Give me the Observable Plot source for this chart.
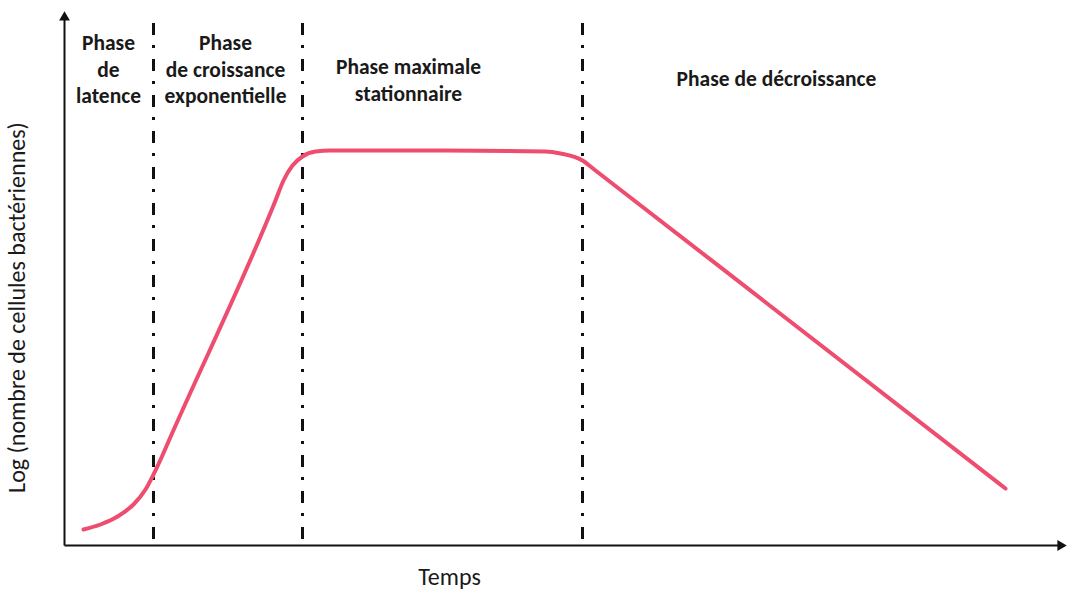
<!DOCTYPE html>
<html>
<head>
<meta charset="utf-8">
<script src="https://cdn.jsdelivr.net/npm/d3@7"></script>
<script src="https://cdn.jsdelivr.net/npm/@observablehq/plot@0.6"></script>
<style>
  html, body { margin: 0; padding: 0; background: #fff; }
  #chart svg { display: block; }
</style>
</head>
<body>
<div id="chart"></div>
<script>
// Time (arbitrary units) and log(cell count) (arbitrary units)
const curveTime = [19, 36, 53, 69, 81, 89, 97, 104, 211, 219, 228, 238, 251, 266, 380, 481, 496, 518, 531, 700, 941];
const curveLog  = [16, 21, 29, 41, 56, 71, 88, 104, 345, 365, 380, 389, 394, 395, 395, 394, 392, 385, 375, 244, 57];

// Phase boundaries (dash-dot lines)
const boundaries = [89, 238, 518];

// Phase labels (lines) and their anchor on the time / log axes
const phaseLines = [
  ["Phase", "de", "latence"],
  ["Phase", "de croissance", "exponentielle"],
  ["Phase maximale", "stationnaire"],
  ["Phase de décroissance"]
];
const phaseLabelTime = [44, 161, 344, 712];
const phaseLabelLog  = [514, 514, 490, 478];

const xLabel = "Temps";
const yLabel = "Log (nombre de cellules bactériennes)";

const curve = curveTime.map((t, i) => ({t, v: curveLog[i]}));
const labels = phaseLines.map((lines, i) => ({text: lines.join("\n"), t: phaseLabelTime[i], v: phaseLabelLog[i]}));

const font = "Carlito, Lato, 'Open Sans', sans-serif";

const chart = Plot.plot({
  width: 1069,
  height: 590,
  marginLeft: 64,
  marginRight: 4,
  marginTop: 10,
  marginBottom: 45,
  x: {domain: [0, 1001], axis: null},
  y: {domain: [0, 535], axis: null},
  style: {fontFamily: font, background: "#fff"},
  marks: [
    // phase boundaries
    Plot.ruleX(boundaries, {x: d => d, y1: 6, y2: 532, stroke: "#111", strokeWidth: 3, strokeDasharray: "12 11 3 10"}),
    // axes
    Plot.link([{x1: 0, y1: 0, x2: 0, y2: 526}], {x1: "x1", y1: "y1", x2: "x2", y2: "y2", stroke: "#111", strokeWidth: 2}),
    Plot.link([{x1: 0, y1: 0, x2: 994, y2: 0}], {x1: "x1", y1: "y1", x2: "x2", y2: "y2", stroke: "#111", strokeWidth: 2}),
    Plot.dot([{x: 0, y: 528}], {x: "x", y: "y", symbol: "triangle", r: 4, fill: "#111", stroke: null}),
    Plot.dot([{x: 996, y: 0}], {x: "x", y: "y", symbol: "triangle", r: 4, fill: "#111", stroke: null, rotate: 90}),
    // growth curve
    Plot.line(curve, {x: "t", y: "v", curve: "monotone-x", stroke: "#ee4d6f", strokeWidth: 4, strokeLinecap: "round"}),
    // phase labels
    Plot.text(labels, {x: "t", y: "v", text: "text", fontSize: 21.5, fontWeight: "bold", fill: "#1a1a1a", lineHeight: 1.23, lineAnchor: "top", textAnchor: "middle"}),
    // axis titles
    Plot.text([xLabel], {x: 385, y: -32, text: d => d, fontSize: 24, fill: "#1a1a1a"}),
    Plot.text([yLabel], {x: -47, y: 238, text: d => d, fontSize: 24, fill: "#1a1a1a", rotate: -90})
  ]
});
document.getElementById("chart").appendChild(chart);
</script>
</body>
</html>
